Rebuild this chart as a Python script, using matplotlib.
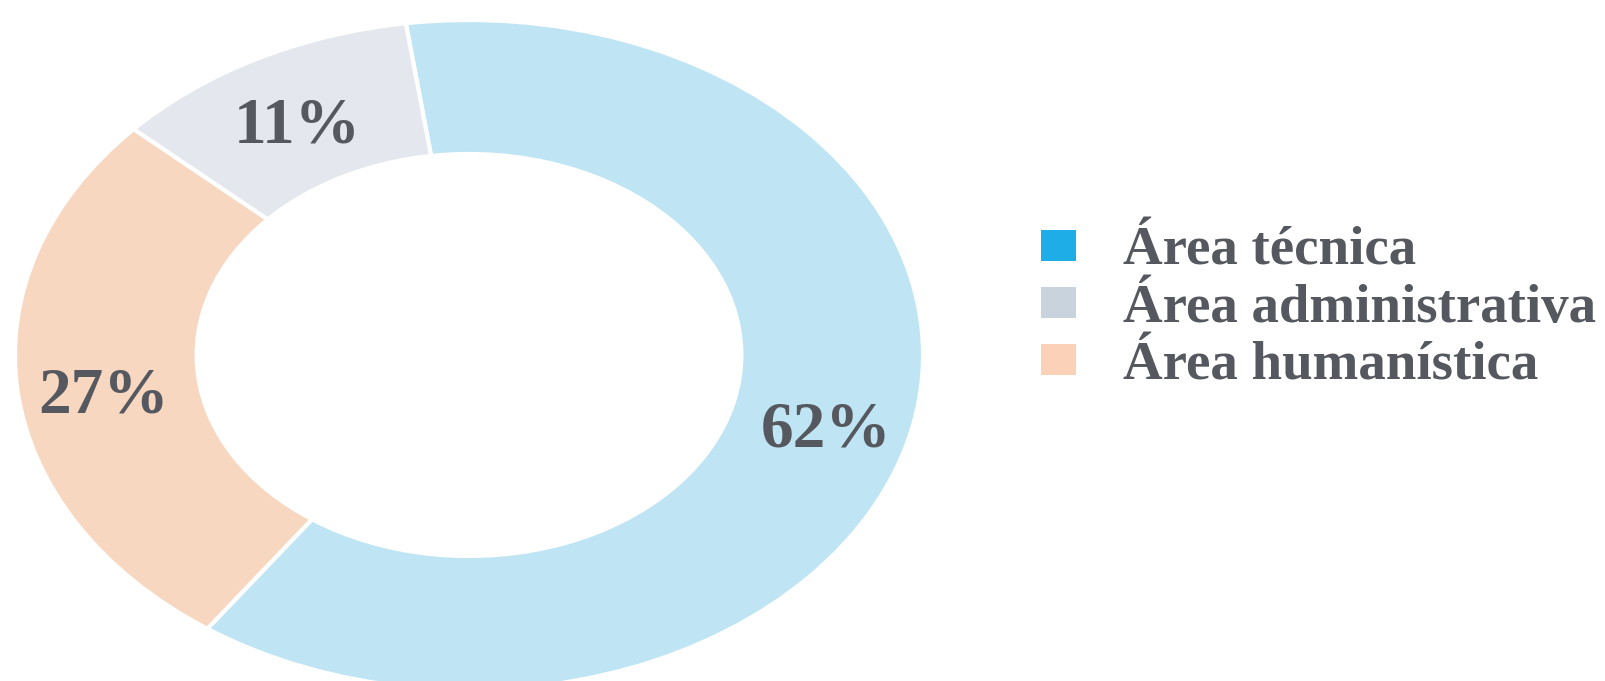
import matplotlib
matplotlib.use("Agg")
import matplotlib.pyplot as plt
from matplotlib.patches import Patch

# shares of each area, in the order they run clockwise from the top
areas = ["Área técnica", "Área humanística", "Área administrativa"]
shares = [62, 27, 11]
ring_colors = ["#bfe5f4", "#f8d7c1", "#e4e8ee"]

# legend order as printed next to the ring
legend_labels = ["Área técnica", "Área administrativa", "Área humanística"]
legend_colors = ["#1eade6", "#c9d3de", "#fbd1b7"]

text_color = "#55595f"

fig = plt.figure(figsize=(16.05, 6.81), dpi=100)

# the ring is drawn stretched sideways, like the original
ax = fig.add_axes([15 / 1605, -9 / 681, 908 / 1605, 670 / 681])
wedges, texts, pcts = ax.pie(
    shares, colors=ring_colors, startangle=98, counterclock=False,
    radius=1, autopct="%.0f%%", pctdistance=0.81,
    wedgeprops=dict(width=0.40, edgecolor="white", linewidth=3),
    textprops=dict(family="Liberation Serif", weight="bold",
                   size=47, color=text_color))
for t in pcts:
    x, y = t.get_position()
    t.set_position((x, y - 0.035))
ax.set_aspect("auto")
ax.set_xlim(-1, 1)
ax.set_ylim(-1, 1)
ax.axis("off")

handles = [Patch(facecolor=c, edgecolor="none") for c in legend_colors]
fig.legend(handles, legend_labels, loc="upper left",
           bbox_to_anchor=(1041 / 1605, 1 - 227 / 681),
           frameon=False, borderpad=0, borderaxespad=0,
           handlelength=0.63, handleheight=0.5, handletextpad=0.87,
           labelspacing=0.13,
           prop=dict(family="Liberation Serif", weight="bold", size=39.5),
           labelcolor=text_color)

fig.savefig("out.png", dpi=100, facecolor="white")
